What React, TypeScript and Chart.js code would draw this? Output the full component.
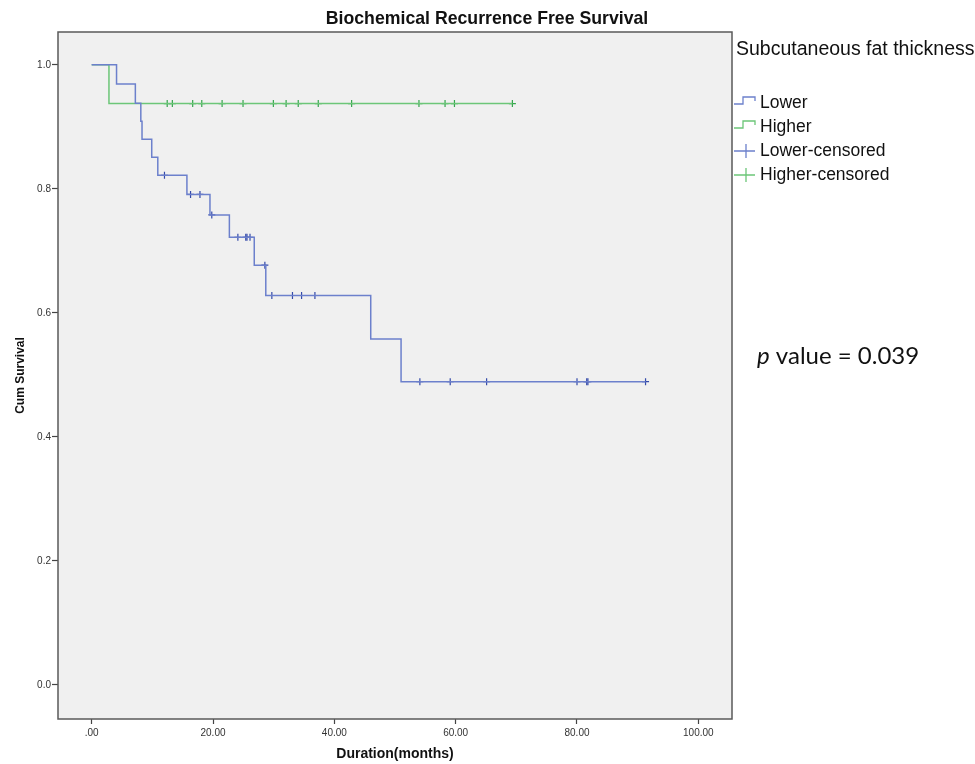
import { useEffect, useRef } from 'react';
import { Chart, registerables } from 'chart.js';

Chart.register(...registerables);

// ---------------- Data ----------------
const chartTitle = 'Biochemical Recurrence Free Survival';
const xAxisTitle = 'Duration(months)';
const yAxisTitle = 'Cum Survival';
const legendTitle = 'Subcutaneous fat thickness';
const groupNames = ['Lower', 'Higher'];
const pValueText = '0.039';

const xTickValues = [0, 20, 40, 60, 80, 100];
const xTickLabels = ['.00', '20.00', '40.00', '60.00', '80.00', '100.00'];
const yTickValues = [0, 0.2, 0.4, 0.6, 0.8, 1.0];
const yTickLabels = ['0.0', '0.2', '0.4', '0.6', '0.8', '1.0'];

// Lower group: event times and survival after each event
const lowerEventTimes = [4.1, 7.2, 8.1, 8.3, 9.9, 10.9, 15.7, 19.5, 22.7, 26.8, 28.7, 46.0, 51.0];
const lowerSurvival = [0.969, 0.938, 0.909, 0.880, 0.851, 0.822, 0.791, 0.758, 0.722, 0.677, 0.628, 0.558, 0.489];
const lowerCensored = [12.0, 16.3, 17.85, 19.8, 24.1, 25.4, 25.6, 26.1, 28.55, 29.7, 33.1, 34.6, 36.8, 54.1, 59.1, 65.1, 80.0, 81.6, 81.8, 91.3];

// Higher group
const higherEventTimes = [2.85];
const higherSurvival = [0.9375];
const higherCensored = [12.45, 13.3, 16.65, 18.15, 21.5, 24.95, 29.95, 32.05, 34.05, 37.35, 42.85, 53.95, 58.25, 59.8, 69.35];

// ---------------- Styles ----------------
const lowerLineColor = 'rgb(108,128,204)';
const lowerCensorColor = 'rgb(52,74,170)';
const higherLineColor = 'rgb(108,198,120)';
const higherCensorColor = 'rgb(52,166,76)';
const plotBg = '#f0f0f0';
const frameColor = '#5a5a5a';
const textFont = "'Liberation Sans', Arial, sans-serif";

function stepPoints(times: number[], surv: number[], censored: number[]) {
  const pts: { x: number; y: number }[] = [{ x: 0, y: 1 }];
  let prev = 1;
  times.forEach((t, i) => {
    pts.push({ x: t, y: prev });
    pts.push({ x: t, y: surv[i] });
    prev = surv[i];
  });
  const end = Math.max(times[times.length - 1], censored[censored.length - 1]);
  pts.push({ x: end, y: prev });
  return pts;
}

function survivalAt(t: number, times: number[], surv: number[]) {
  let s = 1;
  times.forEach((et, i) => {
    if (et <= t) s = surv[i];
  });
  return s;
}

function censorPoints(censored: number[], times: number[], surv: number[]) {
  return censored.map((c) => ({ x: c, y: survivalAt(c, times, surv) }));
}

const decorPlugin = {
  id: 'decor',
  beforeDraw(chart: any) {
    const { ctx, chartArea } = chart;
    ctx.save();
    ctx.fillStyle = '#ffffff';
    ctx.fillRect(0, 0, chart.width, chart.height);
    ctx.fillStyle = plotBg;
    ctx.fillRect(chartArea.left, chartArea.top, chartArea.right - chartArea.left, chartArea.bottom - chartArea.top);
    ctx.restore();
  },
  afterDraw(chart: any) {
    const { ctx, chartArea } = chart;
    ctx.save();
    // frame
    ctx.strokeStyle = frameColor;
    ctx.lineWidth = 1.5;
    ctx.strokeRect(chartArea.left, chartArea.top, chartArea.right - chartArea.left, chartArea.bottom - chartArea.top);

    // title
    ctx.fillStyle = '#111';
    ctx.font = `bold 17.7px ${textFont}`;
    ctx.textAlign = 'center';
    ctx.textBaseline = 'middle';
    ctx.fillText(chartTitle, 487, 19);

    // legend
    ctx.textAlign = 'left';
    ctx.font = `19.5px ${textFont}`;
    ctx.fillStyle = '#111';
    ctx.fillText(legendTitle, 736, 50);

    const lx = 734;
    const rowY = [103, 127, 151, 175];
    ctx.font = `17.5px ${textFont}`;
    const lineCols = [lowerLineColor, higherLineColor];
    ctx.lineWidth = 1.3;
    for (let i = 0; i < 2; i++) {
      const y = rowY[i];
      ctx.strokeStyle = lineCols[i];
      ctx.beginPath();
      ctx.moveTo(lx, y + 1);
      ctx.lineTo(lx + 9, y + 1);
      ctx.lineTo(lx + 9, y - 6);
      ctx.lineTo(lx + 21, y - 6);
      ctx.lineTo(lx + 21, y - 2);
      ctx.stroke();
      ctx.fillStyle = '#111';
      ctx.fillText(groupNames[i], 760, y);
    }
    for (let i = 0; i < 2; i++) {
      const y = rowY[i + 2];
      ctx.strokeStyle = lineCols[i];
      ctx.beginPath();
      ctx.moveTo(lx, y);
      ctx.lineTo(lx + 21, y);
      ctx.moveTo(lx + 12, y - 7);
      ctx.lineTo(lx + 12, y + 7);
      ctx.stroke();
      ctx.fillStyle = '#111';
      ctx.fillText(groupNames[i] + '-censored', 760, y);
    }

    // p value
    const pFont = "Lato, 'Open Sans', sans-serif";
    ctx.fillStyle = '#111';
    ctx.font = `italic 24px ${pFont}`;
    ctx.fillText('p', 757, 356);
    const pw = ctx.measureText('p').width;
    ctx.font = `24px ${pFont}`;
    ctx.fillText(' value = ' + pValueText, 757 + pw, 356);
    ctx.restore();
  },
};

export default function App() {
  const ref = useRef<HTMLCanvasElement>(null);
  useEffect(() => {
    document.body.style.margin = '0';
    const canvas = ref.current!;
    const chart = new Chart(canvas, {
      type: 'scatter',
      data: {
        datasets: [
          {
            label: 'Lower',
            data: stepPoints(lowerEventTimes, lowerSurvival, lowerCensored),
            showLine: true,
            borderColor: lowerLineColor,
            borderWidth: 1.5,
            pointRadius: 0,
            fill: false,
            tension: 0,
          },
          {
            label: 'Higher',
            data: stepPoints(higherEventTimes, higherSurvival, higherCensored),
            showLine: true,
            borderColor: higherLineColor,
            borderWidth: 1.5,
            pointRadius: 0,
            fill: false,
            tension: 0,
          },
          {
            label: 'Lower-censored',
            data: censorPoints(lowerCensored, lowerEventTimes, lowerSurvival),
            showLine: false,
            pointStyle: 'cross',
            pointRadius: 3.5,
            borderColor: lowerCensorColor,
            borderWidth: 1.2,
          },
          {
            label: 'Higher-censored',
            data: censorPoints(higherCensored, higherEventTimes, higherSurvival),
            showLine: false,
            pointStyle: 'cross',
            pointRadius: 3.5,
            borderColor: higherCensorColor,
            borderWidth: 1.2,
          },
        ] as any,
      },
      options: {
        responsive: false,
        maintainAspectRatio: false,
        animation: false,
        layout: { padding: { left: 0, top: 32, right: 243, bottom: 0 } },
        plugins: {
          legend: { display: false },
          title: { display: false },
          tooltip: { enabled: false },
        },
        scales: {
          x: {
            type: 'linear',
            min: -5.55,
            max: 105.55,
            afterFit: (s: any) => {
              s.height = 45;
            },
            afterBuildTicks: (s: any) => {
              s.ticks = xTickValues.map((v) => ({ value: v }));
            },
            ticks: {
              callback: (_v: any, i: number) => xTickLabels[i],
              font: { family: textFont, size: 10 },
              color: '#333',
              padding: 3,
              maxRotation: 0,
              autoSkip: false,
            },
            grid: {
              drawOnChartArea: false,
              drawTicks: true,
              tickLength: 5,
              tickColor: '#444',
              tickWidth: 1.2,
            },
            border: { display: false },
            title: {
              display: true,
              text: xAxisTitle,
              font: { family: textFont, size: 14, weight: 'bold' },
              color: '#111',
              padding: { top: 0, bottom: 1 },
            },
          },
          y: {
            type: 'linear',
            min: -0.055,
            max: 1.053,
            afterFit: (s: any) => {
              s.width = 58;
            },
            afterBuildTicks: (s: any) => {
              s.ticks = yTickValues.map((v) => ({ value: v }));
            },
            ticks: {
              callback: (_v: any, i: number) => yTickLabels[i],
              font: { family: textFont, size: 10 },
              color: '#333',
              padding: 1,
              autoSkip: false,
            },
            grid: {
              drawOnChartArea: false,
              drawTicks: true,
              tickLength: 6,
              tickColor: '#444',
              tickWidth: 1.2,
            },
            border: { display: false },
            title: {
              display: true,
              text: yAxisTitle,
              font: { family: textFont, size: 12, weight: 'bold' },
              color: '#111',
              padding: { top: 13, bottom: 0 },
            },
          },
        },
      },
      plugins: [decorPlugin],
    });
    return () => chart.destroy();
  }, []);
  return (
    <div style={{ width: 975, height: 764 }}>
      <canvas ref={ref} width={975} height={764} style={{ display: 'block' }} />
    </div>
  );
}
